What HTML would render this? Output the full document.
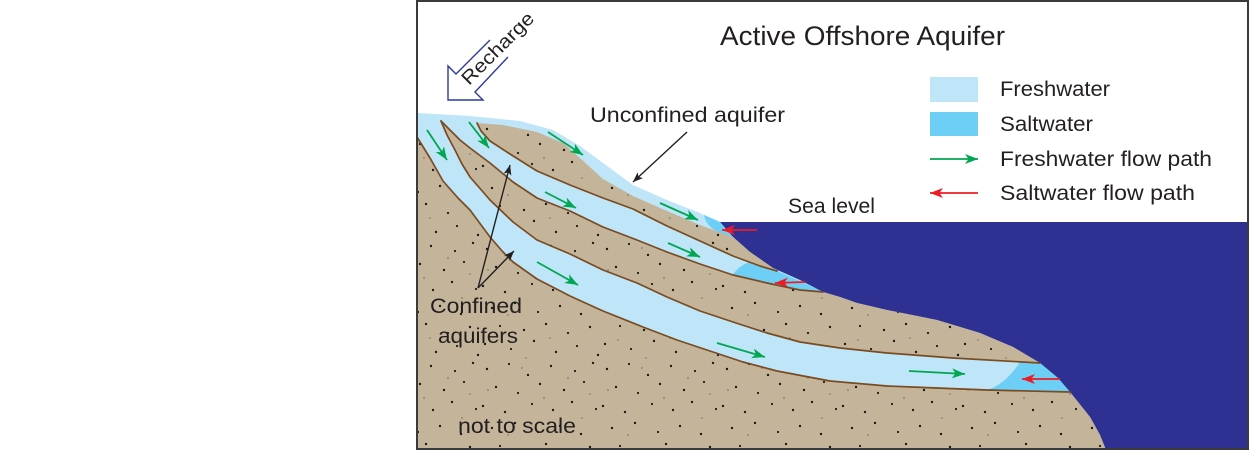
<!DOCTYPE html>
<html>
<head>
<meta charset="utf-8">
<style>
  html,body{margin:0;padding:0;background:#fff;}
  svg{display:block;}
  text{font-family:"Liberation Sans",Arial,sans-serif;fill:#231f20;}
</style>
</head>
<body>
<svg width="1250" height="450" viewBox="0 0 1250 450" xmlns="http://www.w3.org/2000/svg">
  <defs>
    <pattern id="dots" width="120" height="120" patternUnits="userSpaceOnUse">
      <g fill="#1a1a1a">
        <circle cx="7" cy="9" r="1.2"/>
        <circle cx="29" cy="4" r="1.1"/>
        <circle cx="48" cy="15" r="1.2"/>
        <circle cx="71" cy="6" r="1.2"/>
        <circle cx="95" cy="11" r="1.1"/>
        <circle cx="113" cy="3" r="1.2"/>
        <circle cx="16" cy="27" r="1.2"/>
        <circle cx="38" cy="33" r="1.1"/>
        <circle cx="60" cy="24" r="1.2"/>
        <circle cx="84" cy="30" r="1.2"/>
        <circle cx="104" cy="22" r="1.1"/>
        <circle cx="3" cy="46" r="1.2"/>
        <circle cx="25" cy="52" r="1.2"/>
        <circle cx="52" cy="44" r="1.1"/>
        <circle cx="73" cy="50" r="1.2"/>
        <circle cx="92" cy="42" r="1.2"/>
        <circle cx="116" cy="49" r="1.1"/>
        <circle cx="12" cy="68" r="1.2"/>
        <circle cx="35" cy="63" r="1.2"/>
        <circle cx="58" cy="72" r="1.1"/>
        <circle cx="80" cy="66" r="1.2"/>
        <circle cx="101" cy="74" r="1.2"/>
        <circle cx="20" cy="86" r="1.1"/>
        <circle cx="44" cy="90" r="1.2"/>
        <circle cx="66" cy="84" r="1.2"/>
        <circle cx="88" cy="93" r="1.1"/>
        <circle cx="110" cy="87" r="1.2"/>
        <circle cx="5" cy="104" r="1.2"/>
        <circle cx="31" cy="109" r="1.1"/>
        <circle cx="54" cy="101" r="1.2"/>
        <circle cx="76" cy="112" r="1.2"/>
        <circle cx="97" cy="106" r="1.1"/>
        <circle cx="118" cy="115" r="1.2"/>
      </g>
      <g fill="#85796a">
        <circle cx="42" cy="8" r="0.9"/>
        <circle cx="88" cy="18" r="0.9"/>
        <circle cx="8" cy="30" r="0.9"/>
        <circle cx="64" cy="38" r="0.9"/>
        <circle cx="110" cy="34" r="0.9"/>
        <circle cx="28" cy="75" r="0.9"/>
        <circle cx="70" cy="98" r="0.9"/>
        <circle cx="46" cy="118" r="0.9"/>
        <circle cx="102" cy="58" r="0.9"/>
        <circle cx="18" cy="100" r="0.9"/>
      </g>
    </pattern>
    <marker id="mg" markerUnits="userSpaceOnUse" markerWidth="14" markerHeight="12" refX="13" refY="5" orient="auto">
      <path d="M0,0 L13,5 L0,10 L3.5,5 Z" fill="#00a651"/>
    </marker>
    <marker id="mr" markerUnits="userSpaceOnUse" markerWidth="14" markerHeight="12" refX="13" refY="5" orient="auto">
      <path d="M0,0 L13,5 L0,10 L3.5,5 Z" fill="#ed1c24"/>
    </marker>
    <marker id="mk" markerUnits="userSpaceOnUse" markerWidth="12" markerHeight="10" refX="10" refY="4" orient="auto">
      <path d="M0,0 L10,4 L0,8 L2.5,4 Z" fill="#231f20"/>
    </marker>
  </defs>

  <rect x="0" y="0" width="1250" height="450" fill="#ffffff"/>

  <!-- sea -->
  <rect x="720" y="222" width="529" height="228" fill="#2e3192"/>

  <!-- freshwater base (land body) -->
  <path d="M417,113 L470,116 L520,121 L553,130 L580,146 L603,163 L633,185 L667,200 L700,213 L720,222 L733,237 L750,252 L773,268 L800,280 L823,292 L840,297 L857,303 L887,310 L937,320 L980,333 L1013,347 L1040,363 L1058,378 L1070,392 L1090,417 L1100,435 L1106,450 L417,450 Z" fill="#bee6f8"/>

  <!-- saltwater wedges -->
  <path d="M704,215 L720,222 L733,237 L727,235 C715,232 706,226 704,215 Z" fill="#6dcff6"/>
  <path d="M752,261 L777,271 L800,281 L823,292 L800,290 L767,283 L733,275 C736,269 743,264 752,261 Z" fill="#6dcff6"/>
  <path d="M1020,362 Q1003,388 982,391 L1070,392 L1058,378 L1040,363 Z" fill="#6dcff6"/>

  <!-- tan layers -->
  <g fill="#c4b59a">
    <path d="M477,123 L503,125 L537,132 L563,143 L580,158 L603,179 L633,196 L667,211 L700,225 L733,237 L750,252 L773,268 L777,271 L760,266 L733,256 L700,241 L667,226 L633,209 L603,198 L570,185 L537,171 L510,154 L490,141 L481,131 Z"/>
    <path d="M441,121 L450,130 L460,140 L470,148 L490,163 L513,182 L537,198 L570,211 L603,227 L637,240 L667,252 L700,264 L733,275 L767,283 L800,290 L823,292 L840,297 L857,303 L887,310 L937,320 L980,333 L1013,347 L1040,363 L953,358 L887,353 L840,348 L800,342 L767,333 L733,322 L700,311 L667,297 L637,283 L603,270 L570,254 L537,240 L513,222 L490,200 L470,177 L462,164 L455,150 L447,135 Z"/>
    <path d="M417,137 L430,158 L443,181 L458,198 L470,210 L490,237 L503,252 L513,262 L537,279 L570,296 L603,311 L643,327 L677,340 L710,351 L743,362 L777,371 L830,381 L887,386 L937,388 L987,390 L1070,392 L1090,417 L1100,435 L1106,450 L417,450 Z"/>
  </g>
  <g fill="url(#dots)">
    <path d="M477,123 L503,125 L537,132 L563,143 L580,158 L603,179 L633,196 L667,211 L700,225 L733,237 L750,252 L773,268 L777,271 L760,266 L733,256 L700,241 L667,226 L633,209 L603,198 L570,185 L537,171 L510,154 L490,141 L481,131 Z"/>
    <path d="M441,121 L450,130 L460,140 L470,148 L490,163 L513,182 L537,198 L570,211 L603,227 L637,240 L667,252 L700,264 L733,275 L767,283 L800,290 L823,292 L840,297 L857,303 L887,310 L937,320 L980,333 L1013,347 L1040,363 L953,358 L887,353 L840,348 L800,342 L767,333 L733,322 L700,311 L667,297 L637,283 L603,270 L570,254 L537,240 L513,222 L490,200 L470,177 L462,164 L455,150 L447,135 Z"/>
    <path d="M417,137 L430,158 L443,181 L458,198 L470,210 L490,237 L503,252 L513,262 L537,279 L570,296 L603,311 L643,327 L677,340 L710,351 L743,362 L777,371 L830,381 L887,386 L937,388 L987,390 L1070,392 L1090,417 L1100,435 L1106,450 L417,450 Z"/>
  </g>

  <!-- brown boundary lines -->
  <g fill="none" stroke="#7a4a20" stroke-width="1.7" stroke-linejoin="round" stroke-linecap="round">
    <path d="M477,123 L481,131 L490,141 L510,154 L537,171 L570,185 L603,198 L633,209 L667,226 L700,241 L733,256 L760,266 L777,271"/>
    <path d="M441,121 L450,130 L460,140 L470,148 L490,163 L513,182 L537,198 L570,211 L603,227 L637,240 L667,252 L700,264 L733,275 L767,283 L800,290 L823,292"/>
    <path d="M441,121 L447,135 L455,150 L462,164 L470,177 L490,200 L513,222 L537,240 L570,254 L603,270 L637,283 L667,297 L700,311 L733,322 L767,333 L800,342 L840,348 L887,353 L953,358 L1040,363"/>
    <path d="M417,137 L430,158 L443,181 L458,198 L470,210 L490,237 L503,252 L513,262 L537,279 L570,296 L603,311 L643,327 L677,340 L710,351 L743,362 L777,371 L830,381 L887,386 L937,388 L987,390 L1070,392"/>
  </g>

  <!-- green flow arrows -->
  <g stroke="#00a651" stroke-width="1.8" fill="none" marker-end="url(#mg)">
    <line x1="427" y1="130" x2="447" y2="160"/>
    <line x1="469" y1="122" x2="489" y2="148"/>
    <line x1="548" y1="132" x2="583" y2="155"/>
    <line x1="545" y1="192" x2="576" y2="208"/>
    <line x1="660" y1="203" x2="698" y2="220"/>
    <line x1="668" y1="243" x2="700" y2="257"/>
    <line x1="537" y1="262" x2="578" y2="285"/>
    <line x1="717" y1="343" x2="765" y2="357"/>
    <line x1="909" y1="371" x2="965" y2="374"/>
    <line x1="930" y1="159" x2="978" y2="159"/>
  </g>

  <!-- red flow arrows -->
  <g stroke="#ed1c24" stroke-width="1.8" fill="none" marker-end="url(#mr)">
    <line x1="757" y1="230" x2="722" y2="230"/>
    <line x1="805" y1="282" x2="775" y2="283"/>
    <line x1="1060" y1="379" x2="1022" y2="379"/>
    <line x1="978" y1="193" x2="930" y2="193"/>
  </g>

  <!-- black label arrows -->
  <g stroke="#231f20" stroke-width="1.4" fill="none" marker-end="url(#mk)">
    <line x1="687" y1="132" x2="633" y2="182"/>
    <line x1="478" y1="288" x2="510" y2="165"/>
    <line x1="478" y1="288" x2="514" y2="251"/>
  </g>

  <!-- legend swatches -->
  <rect x="930" y="77" width="48" height="25" fill="#bee6f8"/>
  <rect x="930" y="112" width="48" height="24" fill="#6dcff6"/>

  <!-- recharge arrow -->
  <path d="M490,40 L456,74 L448,66 L448,100 L483,100 L475,92 L508,57" fill="none" stroke="#2b3a9e" stroke-width="1.4" stroke-linejoin="miter"/>
  <text transform="translate(469,86) rotate(-45)" font-size="19" textLength="94" lengthAdjust="spacingAndGlyphs">Recharge</text>

  <!-- text labels -->
  <text x="720" y="45" font-size="27" textLength="285" lengthAdjust="spacingAndGlyphs">Active Offshore Aquifer</text>
  <text x="590" y="122" font-size="21" textLength="195" lengthAdjust="spacingAndGlyphs">Unconfined aquifer</text>
  <text x="788" y="213" font-size="21" textLength="87" lengthAdjust="spacingAndGlyphs">Sea level</text>
  <text x="430" y="313" font-size="21" textLength="92" lengthAdjust="spacingAndGlyphs">Confined</text>
  <text x="438" y="343" font-size="21" textLength="80" lengthAdjust="spacingAndGlyphs">aquifers</text>
  <text x="458" y="433" font-size="21" textLength="118" lengthAdjust="spacingAndGlyphs">not to scale</text>

  <text x="1000" y="96" font-size="21" textLength="110" lengthAdjust="spacingAndGlyphs">Freshwater</text>
  <text x="1000" y="131" font-size="21" textLength="93" lengthAdjust="spacingAndGlyphs">Saltwater</text>
  <text x="1000" y="166" font-size="21" textLength="212" lengthAdjust="spacingAndGlyphs">Freshwater flow path</text>
  <text x="1000" y="200" font-size="21" textLength="195" lengthAdjust="spacingAndGlyphs">Saltwater flow path</text>

  <!-- frame -->
  <rect x="417" y="1" width="831" height="448" fill="none" stroke="#3a3a3a" stroke-width="2"/>
</svg>
</body>
</html>
